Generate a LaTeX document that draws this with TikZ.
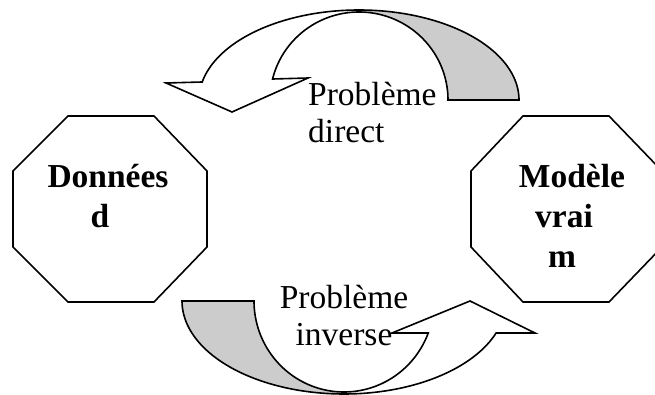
\documentclass[tikz,border=0pt]{standalone}
\usepackage{fontspec}
\setmainfont{Liberation Serif}
\definecolor{bandgray}{RGB}{204,204,204}
\begin{document}
\begin{tikzpicture}[x=1pt,y=-1pt,
  shapeline/.style={draw=black,line width=1.6pt,line join=miter},
  boldtext/.style={font=\fontsize{33.5}{40}\selectfont\bfseries,align=center,inner sep=0pt},
  plaintext/.style={font=\fontsize{33.5}{37}\selectfont,inner sep=0pt}]
\useasboundingbox (0,0) rectangle (655,395);
\fill[white] (0,0) rectangle (655,395);
% octagons
\draw[shapeline] (68,116) -- (154,116) -- (207,171) -- (207,247) -- (154,302) -- (68,302) -- (13,247) -- (13,171) -- cycle;
\draw[shapeline] (523,116) -- (609,116) -- (662,171) -- (662,247) -- (609,302) -- (523,302) -- (471,247) -- (471,171) -- cycle;
% top arrow (front, white)
\draw[shapeline,fill=white] (166,83) -- (202,82)
  -- plot[domain=191.5:270,samples=60] ({359+160*cos(\x)},{100+90*sin(\x)})
  -- plot[domain=270:193.8,samples=60] ({359+89*cos(\x)},{100+88*sin(\x)})
  -- (308,78) -- (232,112) -- cycle;
% top arrow (back, gray)
\draw[shapeline,fill=bandgray]
  plot[domain=270:360,samples=60] ({359+160*cos(\x)},{100+90*sin(\x)})
  -- plot[domain=360:270,samples=60] ({359+89*cos(\x)},{100+88*sin(\x)}) -- cycle;
% bottom arrow (back, gray)
\draw[shapeline,fill=bandgray]
  plot[domain=180:90,samples=60] ({344+162*cos(\x)},{301+93*sin(\x)})
  -- plot[domain=90:180,samples=60] ({344+90*cos(\x)},{301+91*sin(\x)}) -- cycle;
% bottom arrow (front, white)
\draw[shapeline,fill=white]
  plot[domain=90:20.1,samples=60] ({344+162*cos(\x)},{301+93*sin(\x)})
  -- (535,333) -- (470,301) -- (392,333)
  -- plot[domain=20.6:90,samples=60] ({344+90*cos(\x)},{301+91*sin(\x)}) -- cycle;
% texts (base anchor = baseline of the last line)
\node[boldtext,anchor=base] (donnees) at (108,228) {Données\\d\hbox to 16pt{}};
\node[boldtext,anchor=base] (modele) at (572,267) {Modèle\\vrai\hbox to 16pt{}\\m\hbox to 20pt{}};
\node[plaintext,align=left,anchor=base west] (direct) at (308,143) {Problème\\direct};
\node[plaintext,align=center,anchor=base] (inverse) at (344,345) {Problème\\inverse};
\end{tikzpicture}
\end{document}
